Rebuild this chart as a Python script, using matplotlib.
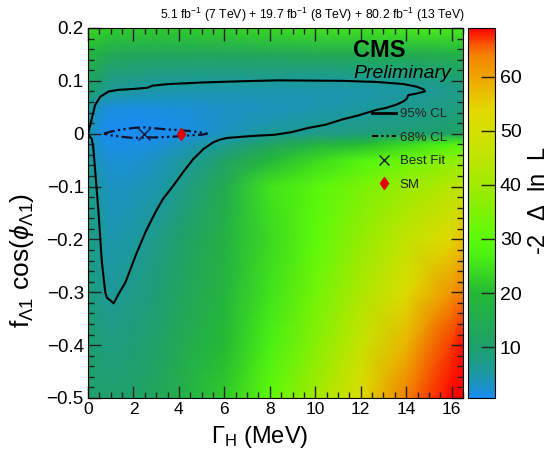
import matplotlib
matplotlib.use("Agg")
import matplotlib.pyplot as plt
import numpy as np
from matplotlib.colors import LinearSegmentedColormap, Normalize
from matplotlib.lines import Line2D
from matplotlib.ticker import MultipleLocator

plt.rcParams["font.family"] = ["Liberation Sans", "DejaVu Sans"]
plt.rcParams["mathtext.fontset"] = "custom"
plt.rcParams["mathtext.rm"] = "Liberation Sans"
plt.rcParams["mathtext.it"] = "Liberation Sans:italic"
plt.rcParams["mathtext.bf"] = "Liberation Sans:bold"

# -2 Delta lnL scan on a coarse grid
gamma_nodes = [0, 0.5, 1, 2, 3, 4, 6, 8, 10, 12, 14, 16, 16.5]
f_nodes = [-0.5, -0.4, -0.3, -0.2, -0.1, -0.05, -0.02, 0.0, 0.02, 0.05, 0.08, 0.1, 0.15, 0.2]
nll_grid = [
    [11, 10, 10, 11, 13, 16, 22, 30, 40, 52, 64, 69, 69],          # -0.5
    [10, 9, 8.5, 9, 11, 14, 20, 27, 36, 47, 58, 67, 68.5],         # -0.4
    [9, 7, 5.8, 7.5, 9, 12, 18, 25, 33, 42, 52, 62, 64],           # -0.3
    [8.5, 6.2, 4.5, 5.4, 7.5, 10, 17, 24, 30, 38, 46, 54, 57],     # -0.2
    [8, 5, 3, 3.5, 4.5, 6.8, 15, 25, 29, 34, 39, 44, 46],          # -0.1
    [7, 3, 2, 2.2, 3.2, 5, 11, 19, 24, 28, 32, 37, 38],            # -0.05
    [6, 2, 1.3, 1.2, 1.8, 3, 6.5, 12, 17, 20, 24, 28, 29],         # -0.02
    [5, 1.5, 0.8, 0.6, 0.8, 1.4, 3.5, 6, 7.5, 8.5, 9.5, 11, 12],   # 0.0
    [5.5, 1.8, 1.0, 0.7, 0.9, 1.4, 2.8, 4.5, 5.8, 7, 8, 9.5, 10],  # 0.02
    [7, 2.5, 1.8, 1.6, 1.7, 2.0, 2.8, 3.5, 4.3, 5.3, 6.5, 8, 8.5], # 0.05
    [10, 8, 5.9, 5.2, 4.8, 4.5, 4.3, 4.2, 4.3, 4.5, 5.2, 7, 7.5],  # 0.08
    [12, 10, 7.3, 6.8, 6.4, 6.2, 6.0, 6.0, 5.9, 6.0, 6.6, 8.5, 9], # 0.1
    [18, 16, 14, 13, 13, 13, 13, 13.5, 14, 14.5, 15, 16, 16.5],    # 0.15
    [24, 23, 22, 22, 22, 22, 23, 24, 25, 25, 26, 26, 26],          # 0.2
]

# 95% CL contour
cl95_gamma = [0.0, 0.17, 0.31, 0.54, 0.91, 1.35, 2.10, 2.62, 2.84, 3.58, 5.08, 6.56, 8.35,
              11.19, 12.68, 13.87, 14.46, 14.76, 14.83, 14.46, 14.09, 14.02, 13.87, 13.57,
              13.13, 12.68, 11.93, 11.19, 10.45, 9.70, 8.96, 8.21, 7.31, 6.12, 5.82, 5.52,
              5.08, 4.63, 4.18, 3.74, 3.29, 2.95, 2.54, 2.10, 1.65, 1.35, 1.13, 0.83, 0.76,
              0.61, 0.46, 0.31, 0.24, 0.17, 0.0]
cl95_f = [0.0, 0.029, 0.054, 0.070, 0.080, 0.083, 0.085, 0.087, 0.091, 0.094, 0.097, 0.099,
          0.101, 0.100, 0.098, 0.094, 0.089, 0.084, 0.080, 0.076, 0.073, 0.066, 0.061, 0.055,
          0.049, 0.045, 0.035, 0.027, 0.017, 0.011, 0.003, -0.002, -0.004, -0.008, -0.011,
          -0.016, -0.029, -0.048, -0.073, -0.099, -0.124, -0.150, -0.185, -0.230, -0.281,
          -0.303, -0.321, -0.310, -0.300, -0.243, -0.147, -0.067, -0.029, -0.010, -0.001]

# 68% CL contour
cl68_gamma = [0.70, 1.0, 1.5, 2.0, 2.5, 3.0, 3.5, 4.0, 4.5, 5.0, 5.24,
              5.0, 4.5, 4.0, 3.5, 3.0, 2.5, 2.0, 1.5, 1.0, 0.70]
cl68_f = [0.0, 0.004, 0.008, 0.011, 0.012, 0.010, 0.008, 0.007, 0.005, 0.002, 0.0,
          -0.002, -0.003, -0.005, -0.006, -0.007, -0.007, -0.008, -0.006, -0.003, 0.0]

best_fit = (2.48, 0.0)
sm_point = (4.09, 0.0)

cb_colors = [
    (0.6, "#1a8cf0"), (3, "#1b93c0"), (6, "#1c9a95"), (10, "#1ea06c"),
    (20, "#25b934"), (27, "#4cf212"), (30, "#5cfa0a"), (40, "#a2ea00"),
    (50, "#d6e000"), (54, "#e2d800"), (60, "#f0a400"), (64, "#f48400"),
    (66, "#f65a00"), (69, "#ff0000"),
]
z_min, z_max = 0.6, 69.0

positions = [(v - z_min) / (z_max - z_min) for v, _ in cb_colors]
cmap = LinearSegmentedColormap.from_list("nll", list(zip(positions, [c for _, c in cb_colors])))

fig = plt.figure(figsize=(5.52, 4.62), dpi=100)
W, H = 552.0, 462.0
ax = fig.add_axes([88 / W, 1 - 398 / H, 375 / W, 370 / H])
cax = fig.add_axes([468 / W, 1 - 398 / H, 27 / W, 370 / H])

gx, gy = np.meshgrid(gamma_nodes, f_nodes)
mesh = ax.pcolormesh(gx, gy, np.array(nll_grid), cmap=cmap,
                     norm=Normalize(z_min, z_max), shading="gouraud", rasterized=True)

ax.plot(cl95_gamma, cl95_f, color="black", lw=1.5)
ax.plot(cl68_gamma, cl68_f, color="#101030", lw=1.6, dashes=(5, 1.5, 1, 1.5, 1, 1.5))
ax.plot(*best_fit, marker="x", color="#1a1a40", ms=8, mew=1.0, ls="none")
ax.plot(*sm_point, marker="d", color="#e00000", ms=6.5, ls="none")

ax.set_xlim(0, 16.5)
ax.set_ylim(-0.5, 0.2)
ax.xaxis.set_major_locator(MultipleLocator(2))
ax.xaxis.set_minor_locator(MultipleLocator(0.5))
ax.yaxis.set_major_locator(MultipleLocator(0.1))
ax.yaxis.set_minor_locator(MultipleLocator(0.02))
ax.tick_params(which="both", direction="in", top=True, right=True, color="#222222")
ax.tick_params(which="major", length=9, width=1.0)
ax.tick_params(which="minor", length=4.5, width=1.0)
ax.tick_params(axis="x", labelsize=12.5, pad=3)
ax.tick_params(axis="y", labelsize=13.5, pad=3)
ax.yaxis.set_major_formatter(plt.FuncFormatter(lambda v, _: "0" if abs(v) < 1e-9 else f"{v:.1f}".replace("-", "\u2212")))

cb = fig.colorbar(mesh, cax=cax)
cb.set_ticks([10, 20, 30, 40, 50, 60])
cax.tick_params(direction="in", length=10, width=1.0, labelsize=14, color="#222222")
cb.outline.set_linewidth(0.8)

fig.text(260 / W, 1 - 437 / H, r"$\Gamma_{\mathrm{H}}$ (MeV)", fontsize=17, ha="center", va="center")
fig.text(22 / W, 1 - 260 / H, r"f$_{\Lambda1}$ cos($\phi_{\Lambda1}$)", fontsize=19,
         ha="center", va="center", rotation=90)
fig.text(539 / W, 1 - 201 / H, r"-2  $\Delta$  ln  L", fontsize=17, ha="center", va="center", rotation=90)

fig.text(465 / W, 1 - 19 / H,
         r"5.1 fb$^{-1}$ (7 TeV) + 19.7 fb$^{-1}$ (8 TeV) + 80.2 fb$^{-1}$ (13 TeV)",
         fontsize=8.8, ha="right", va="baseline")
fig.text(353 / W, 1 - 57 / H, "CMS", fontsize=17, fontweight="bold", ha="left", va="baseline")
fig.text(353 / W, 1 - 78 / H, "Preliminary", fontsize=14, style="italic", ha="left", va="baseline")

handles = [
    Line2D([], [], color="black", lw=2),
    Line2D([], [], color="black", lw=1.5, dashes=(3, 1.5, 1, 1.5, 1, 1.5)),
    Line2D([], [], color="#1a1a40", marker="x", ls="none", ms=7, mew=1.0),
    Line2D([], [], color="#e00000", marker="d", ls="none", ms=6),
]
ax.legend(handles, ["95% CL", "68% CL", "Best Fit", "SM"], loc="upper left",
          bbox_to_anchor=((372 - 88) / 375, (398 - 108) / 370), frameon=False,
          fontsize=9.5, handlelength=1.8, handletextpad=0.3, labelspacing=0.85,
          borderpad=0, borderaxespad=0, labelcolor="#222222")

fig.savefig("out.png", dpi=100)
